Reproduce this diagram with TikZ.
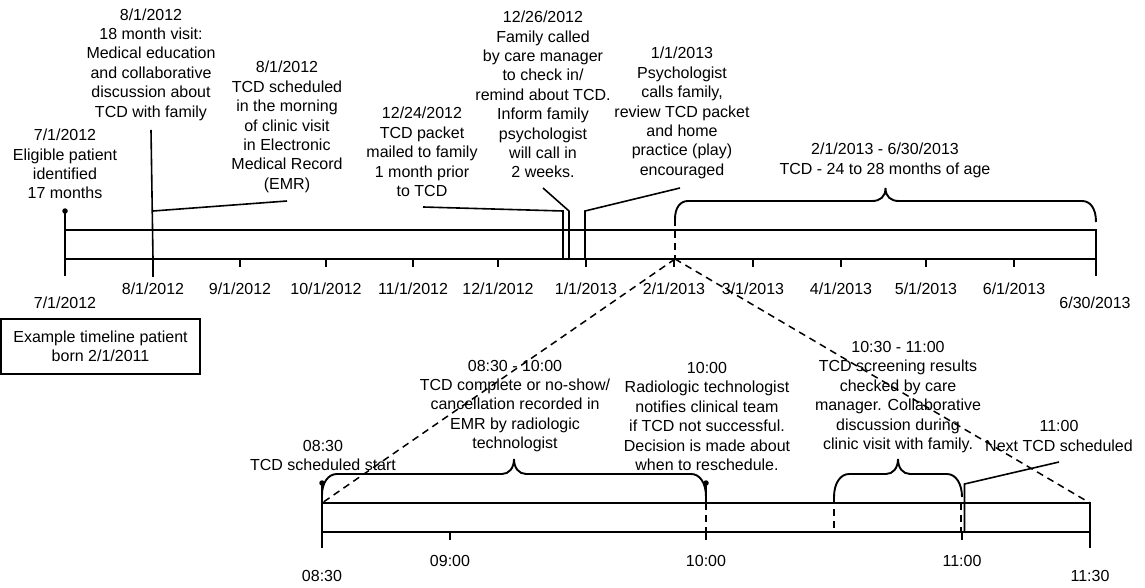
\documentclass[tikz,border=0pt]{standalone}
\usepackage{fontspec}
\setmainfont{Liberation Sans}
\begin{document}
\begin{tikzpicture}[x=1pt,y=-1pt,
  lbl/.style={font=\fontsize{16}{19.4}\selectfont, align=center, inner sep=0pt},
  axisln/.style={line width=1.2pt},
  conn/.style={line width=1.6pt},
  brc/.style={line width=1.9pt},
  dashln/.style={line width=1.5pt, dash pattern=on 7pt off 5pt},
  dotc/.style={circle, fill, inner sep=0pt, minimum size=5.5pt}]
\useasboundingbox (0,0) rectangle (1145,588);

% ---------- top timeline ----------
\draw[axisln] (65,230) rectangle (1096,259);
\foreach \x in {240,326,413,498,586,674,753,841,926,1014}
  \draw[axisln] (\x,259) -- (\x,267);
\draw[axisln] (153,259) -- (153,277);
\draw[axisln] (1096,230) -- (1096,276);

\node[lbl] (m7)  at (65,303)   {7/1/2012};
\node[lbl] (m8)  at (153,289)  {8/1/2012};
\node[lbl] (m9)  at (240,289)  {9/1/2012};
\node[lbl] (m10) at (326,289)  {10/1/2012};
\node[lbl] (m11) at (413,289)  {11/1/2012};
\node[lbl] (m12) at (498,289)  {12/1/2012};
\node[lbl] (m1)  at (586,289)  {1/1/2013};
\node[lbl] (m2)  at (674,289)  {2/1/2013};
\node[lbl] (m3)  at (753,289)  {3/1/2013};
\node[lbl] (m4)  at (841,289)  {4/1/2013};
\node[lbl] (m5)  at (926,289)  {5/1/2013};
\node[lbl] (m6)  at (1014,289) {6/1/2013};
\node[lbl] (m630) at (1095,303) {6/30/2013};

% top texts
\node[lbl] (ta) at (65,164) {7/1/2012\\Eligible patient\\identified\\17 months};
\node[lbl] (tb) at (151,64.5) {8/1/2012\\18 month visit:\\Medical education\\and collaborative\\discussion about\\TCD with family};
\node[lbl] (tc) at (287,127) {8/1/2012\\TCD scheduled\\in the morning\\of clinic visit\\in Electronic\\Medical Record\\(EMR)};
\node[lbl] (td) at (422,152) {12/24/2012\\TCD packet\\mailed to family\\1 month prior\\to TCD};
\node[lbl] (te) at (543,94.5) {12/26/2012\\Family called\\by care manager\\to check in/\\remind about TCD.\\Inform family\\psychologist\\will call in\\2 weeks.};
\node[lbl] (tf) at (682,113) {1/1/2013\\Psychologist\\calls family,\\review TCD packet\\and home\\practice (play)\\encouraged};
\node[lbl] (tg) at (885,160.5) {2/1/2013 - 6/30/2013\\TCD - 24 to 28 months of age};

\node[draw, line width=1.2pt, lbl, minimum width=199pt, minimum height=55pt] (box) at (100.5,346.5) {Example timeline patient\\born 2/1/2011};

% connectors top
\node[dotc] (d7) at (65,211) {};
\coordinate (d7b) at (65,276);
\draw[axisln] (d7.center) -- (d7b);

\coordinate (b8t) at (151,130);
\coordinate (b8b) at (153,259);
\draw[conn] (b8t) -- (b8b);
\coordinate (c8a) at (153,211);
\coordinate (c8b) at (287,201);
\draw[conn] (c8a) -- (c8b);

\coordinate (d24a) at (423,207);
\coordinate (d24b) at (563,211);
\coordinate (d24c) at (563,259);
\draw[conn] (d24a) -- (d24b) -- (d24c);

\coordinate (e26a) at (543,188);
\coordinate (e26b) at (569,211);
\coordinate (e26c) at (569,259);
\draw[conn] (e26a) -- (e26b) -- (e26c);

\coordinate (f1a) at (585,259);
\coordinate (f1b) at (585,211);
\coordinate (f1c) at (680,188);
\draw[conn] (f1a) -- (f1b) -- (f1c);

% top brace
\draw[brc] (675,219) .. controls (675,208) and (680,201) .. (688,201) -- (872,201)
  .. controls (880,201) and (885.5,197) .. (885.5,188)
  .. controls (885.5,197) and (891,201) .. (899,201) -- (1082,201)
  .. controls (1090,201) and (1096,208) .. (1096,222);

% zoom lines
\coordinate (z0) at (675,259);
\coordinate (z0t) at (675,219);
\coordinate (zl) at (322,503);
\coordinate (zr) at (1090,503);
\draw[dashln] (z0t) -- (z0);
\draw[dashln] (z0) -- (zl);
\draw[dashln] (z0) -- (zr);

% ---------- bottom timeline ----------
\draw[axisln] (322,503) rectangle (1090,532);
\foreach \x in {450,706,962}
  \draw[axisln] (\x,532) -- (\x,540);
\draw[axisln] (1090,503) -- (1090,548);

\node[dotc] (d830) at (322,483) {};
\node[dotc] (d1000) at (706,483) {};
\coordinate (d830b) at (322,548);
\draw[conn] (d830.center) -- (d830b);
\coordinate (d1000b) at (706,503);
\draw[conn] (d1000.center) -- (d1000b);

\draw[dashln] (706,503) -- (706,532);
\draw[dashln] (834,497) -- (834,532);
\draw[dashln] (961,503) -- (961,532);

\coordinate (n11a) at (964.5,532);
\coordinate (n11b) at (964.5,484);
\coordinate (n11c) at (1059,462);
\draw[conn] (n11a) -- (n11b) -- (n11c);

% bottom braces
\draw[brc] (322,495) .. controls (322,483) and (328,474) .. (337,474) -- (502,474)
  .. controls (509,474) and (514,468) .. (514,459)
  .. controls (514,468) and (519,474) .. (526,474) -- (691,474)
  .. controls (700,474) and (706,483) .. (706,497);
\draw[brc] (834,497) .. controls (834,484) and (840,474) .. (849,474) -- (886,474)
  .. controls (893,474) and (898,468) .. (898,459)
  .. controls (898,468) and (903,474) .. (910,474) -- (947,474)
  .. controls (956,474) and (962,484) .. (962,497);

% bottom axis labels
\node[lbl] (h830) at (322,576) {08:30};
\node[lbl] (h900) at (450,561) {09:00};
\node[lbl] (h1000) at (706,561) {10:00};
\node[lbl] (h1100) at (962,561) {11:00};
\node[lbl] (h1130) at (1090,576) {11:30};

% bottom texts
\node[lbl] (th) at (323,455.5) {08:30\\TCD scheduled start};
\node[lbl] (ti) at (515,406) {08:30 - 10:00\\TCD complete or no-show/\\cancellation recorded in\\EMR by radiologic\\technologist};
\node[lbl] (tj) at (707,416.5) {10:00\\Radiologic technologist\\notifies clinical team\\if TCD not successful.\\Decision is made about\\when to reschedule.};
\node[lbl] (tk) at (898,397) {10:30 - 11:00\\TCD screening results\\checked by care\\manager. Collaborative\\discussion during\\clinic visit with family.};
\node[lbl] (tl) at (1059,436) {11:00\\Next TCD scheduled};
\end{tikzpicture}
\end{document}
